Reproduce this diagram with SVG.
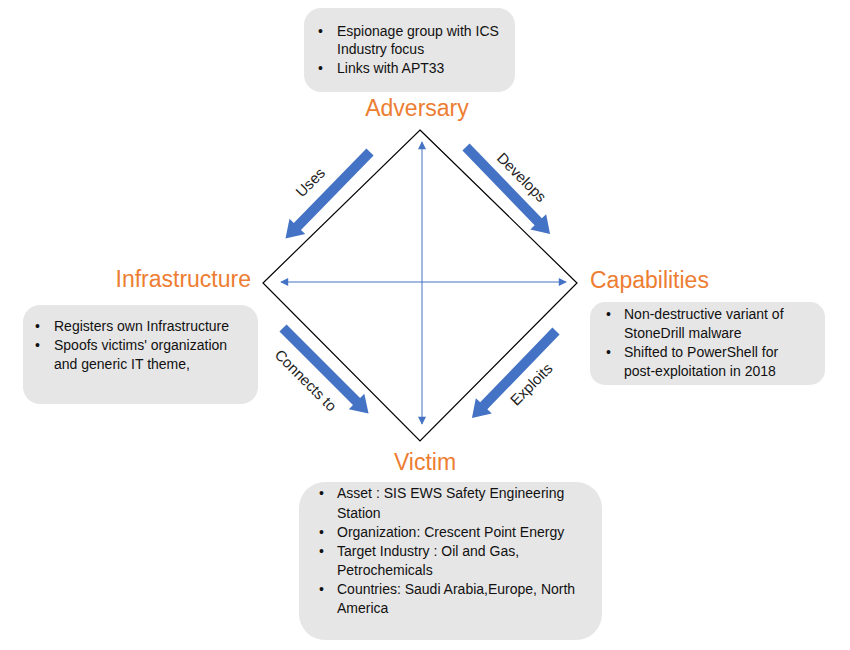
<svg xmlns="http://www.w3.org/2000/svg" width="850" height="650" viewBox="0 0 850 650">
<style>
.box{fill:#E7E6E6;}
.t{font-family:"Liberation Sans",Arial,sans-serif;font-size:14px;fill:#111;}
.title{font-family:"Liberation Sans",Arial,sans-serif;font-size:23px;fill:#ED7D31;}
.lbl{font-family:"Liberation Sans",Arial,sans-serif;font-size:15px;fill:#222;text-anchor:middle;}
.thin{stroke:#4472C4;stroke-width:1;fill:none;marker-start:url(#ah);marker-end:url(#ah);}
.blk{fill:#4472C4;}
</style>
<defs>
<marker id="ah" viewBox="0 0 10 10" refX="9" refY="5" markerWidth="10" markerHeight="8" markerUnits="userSpaceOnUse" orient="auto-start-reverse">
<path d="M0,0 L10,5 L0,10 Z" fill="#4472C4"/>
</marker>
<path id="big" d="M0,-5 H104 V-11 L121,0 L104,11 V5 H0 Z"/>
</defs>
<rect width="850" height="650" fill="#fff"/>

<g id="diamond">
<polygon points="420,130 577,283 420,441 263,283" fill="none" stroke="#000" stroke-width="1.2"/>
</g>

<g id="connectors">
<line class="thin" x1="422" y1="142" x2="422" y2="424"/>
<line class="thin" x1="281" y1="282" x2="566" y2="282"/>
<use href="#big" class="blk" transform="translate(370,152) rotate(134.3)"/>
<use href="#big" class="blk" transform="translate(466,147) rotate(46)"/>
<use href="#big" class="blk" transform="translate(283,328) rotate(45)"/>
<use href="#big" class="blk" transform="translate(556,331) rotate(134)"/>
<text class="lbl" transform="translate(314,186) rotate(-45)">Uses</text>
<text class="lbl" transform="translate(518,181) rotate(45)">Develops</text>
<text class="lbl" transform="translate(302,384) rotate(45)">Connects to</text>
<text class="lbl" transform="translate(535,388) rotate(-45)">Exploits</text>
</g>

<g id="adversary">
<rect class="box" x="304" y="8" width="211" height="84" rx="17"/>
<text class="t" x="318" y="36">•</text><text class="t" x="337" y="36">Espionage group with ICS</text>
<text class="t" x="337" y="54">Industry focus</text>
<text class="t" x="318" y="73">•</text><text class="t" x="337" y="73">Links with APT33</text>
<text class="title" x="417" y="116" text-anchor="middle">Adversary</text>
</g>

<g id="infrastructure">
<rect class="box" x="23" y="305" width="235" height="99" rx="17"/>
<text class="t" x="35" y="331">•</text><text class="t" x="54" y="331">Registers own Infrastructure</text>
<text class="t" x="35" y="350">•</text><text class="t" x="54" y="350">Spoofs victims' organization</text>
<text class="t" x="54" y="369">and generic IT theme,</text>
<text class="title" x="251" y="287" text-anchor="end">Infrastructure</text>
</g>

<g id="capabilities">
<rect class="box" x="590" y="302" width="235" height="83" rx="15"/>
<text class="t" x="606" y="319">•</text><text class="t" x="624" y="319">Non-destructive variant of</text>
<text class="t" x="624" y="338">StoneDrill malware</text>
<text class="t" x="606" y="357">•</text><text class="t" x="624" y="357">Shifted to PowerShell for</text>
<text class="t" x="624" y="376">post-exploitation in 2018</text>
<text class="title" x="590" y="288">Capabilities</text>
</g>

<g id="victim">
<rect class="box" x="299" y="482" width="303" height="158" rx="26"/>
<text class="t" x="319" y="498">•</text><text class="t" x="337" y="498">Asset : SIS EWS Safety Engineering</text>
<text class="t" x="337" y="518">Station</text>
<text class="t" x="319" y="537">•</text><text class="t" x="337" y="537">Organization: Crescent Point Energy</text>
<text class="t" x="319" y="556">•</text><text class="t" x="337" y="556">Target Industry : Oil and Gas,</text>
<text class="t" x="337" y="575">Petrochemicals</text>
<text class="t" x="319" y="594">•</text><text class="t" x="337" y="594">Countries: Saudi Arabia,Europe, North</text>
<text class="t" x="337" y="613">America</text>
<text class="title" x="425" y="470" text-anchor="middle">Victim</text>
</g>
</svg>
